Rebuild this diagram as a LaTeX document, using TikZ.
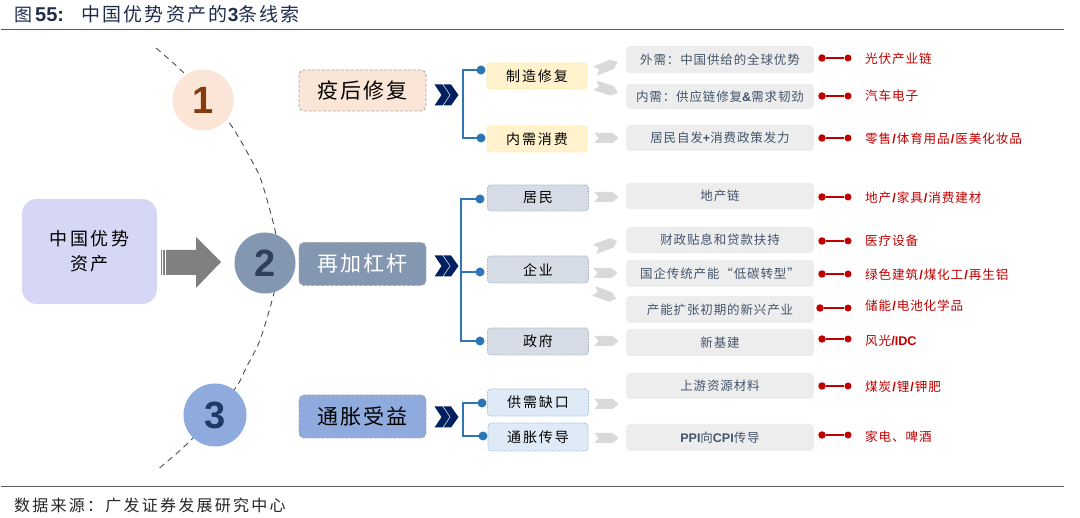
\documentclass[tikz,border=0pt]{standalone}
\usepackage{fontspec}
\setmainfont{Liberation Sans}
\newfontfamily\cjk{Noto Sans CJK SC}
\newfontfamily\cjks[LetterSpace=14]{Noto Sans CJK SC}
\newfontfamily\cjkt[LetterSpace=12]{Noto Sans CJK SC}
\newfontfamily\cjkr[LetterSpace=7]{Noto Sans CJK SC}
\newfontfamily\cjkw[LetterSpace=8]{Noto Sans CJK SC}
\newcommand{\fsz}[1]{\fontsize{#1}{#1}\selectfont}
\newcommand{\lat}[1]{{\rmfamily\bfseries #1}}
\newcommand{\fwc}{\char"FF1A\relax}
\newcommand{\sep}{\hspace{1pt}\lat{/}\hspace{1pt}}
\definecolor{ink}{HTML}{1F2D4D}
\definecolor{slate}{HTML}{44546A}
\definecolor{dred}{HTML}{C00000}
\definecolor{bblue}{HTML}{2E75B6}
\definecolor{navy}{HTML}{002060}
\definecolor{cFFF2CC}{HTML}{FFF2CC}
\definecolor{cFFE699}{HTML}{FFE699}
\definecolor{cD6DCE5}{HTML}{D6DCE5}
\definecolor{cADB9CA}{HTML}{ADB9CA}
\definecolor{cDEEBF7}{HTML}{DEEBF7}
\definecolor{c9DC3E6}{HTML}{9DC3E6}
\definecolor{cEDEDED}{HTML}{EDEDED}
\definecolor{cD9D9D9}{HTML}{D9D9D9}
\definecolor{cD6D6F5}{HTML}{D6D6F5}
\definecolor{cFBE5D6}{HTML}{FBE5D6}
\definecolor{c8497B0}{HTML}{8497B0}
\definecolor{c8FAADC}{HTML}{8FAADC}
\definecolor{c843C0C}{HTML}{843C0C}
\definecolor{c2F3F58}{HTML}{2F3F58}
\definecolor{c1F3864}{HTML}{1F3864}
\tikzset{
  x=1pt,y=-1pt,
  catbox/.style={draw=black!35,dash pattern=on 3pt off 1.8pt,line width=0.9pt,rounded corners=5pt,text=black,font=\cjkw\fsz{21}},
  subbox/.style={rounded corners=3pt,dash pattern=on 2pt off 1pt,line width=0.7pt,text=black,font=\cjks\fsz{14}},
  ylw/.style={subbox,fill=cFFF2CC,draw=cFFE699},
  gry/.style={subbox,fill=cD6DCE5,draw=cADB9CA},
  blu/.style={subbox,fill=cDEEBF7,draw=c9DC3E6},
  infobox/.style={fill=cEDEDED,rounded corners=4pt,text=slate,font=\cjkr\fsz{12.5}},
  redtext/.style={anchor=west,text=dred,font=\cjkr\fsz{12.6},inner sep=0pt},
  rdot/.style={circle,fill=dred,minimum size=7.5pt,inner sep=0pt},
  bdot/.style={circle,fill=bblue,minimum size=9pt,inner sep=0pt},
  rline/.style={draw=dred,line width=2.2pt},
  bline/.style={draw=bblue,line width=2.8pt},
  numcirc/.style={circle,inner sep=0pt,minimum size=61pt,font=\bfseries\fsz{38}},
  arcline/.style={draw=black!70,line width=0.9pt,dash pattern=on 6pt off 4.5pt},
  rule/.style={draw=black!65,line width=1pt},
}
\newcommand{\sharrow}[3]{\fill[cD9D9D9,shift={(#1,#2)},rotate=#3] (-12,-5)--(6,-5)--(12,0)--(6,5)--(-12,5)--(-8,0)--cycle;}
\newcommand{\chev}[1]{\fill[navy,shift={(434.5,#1)}] (0,-10.5)--(8,-10.5)--(15,0)--(8,10.5)--(0,10.5)--(7,0)--cycle (9,-10.5)--(16.5,-10.5)--(24,0)--(16.5,10.5)--(9,10.5)--(16,0)--cycle;}
\begin{document}
\begin{tikzpicture}
\useasboundingbox (0,0) rectangle (1080,518);
% header and footer
\coordinate (tl) at (1,30); \coordinate (tr) at (1064,30);
\coordinate (bl) at (1,487); \coordinate (br) at (1064,487);
\draw[rule] (tl)--(tr);
\draw[rule] (bl)--(br);
\node[anchor=west,inner sep=0pt,text=ink] (title) at (14,14) {{\cjk\fsz{18}图}\hspace{3pt}\lat{\fsz{20}55:}\hspace{17pt}{\cjkt\fsz{19}中国优势资产的\lat{3}条线索}};
\node[anchor=west,inner sep=0pt,text=black!85] (src) at (14,505) {\cjks\fsz{16}数据来源\fwc 广发证券发展研究中心};
% arc
\draw[arcline] plot[smooth] coordinates {(156,48)(186,75)(228,121)(253,163)(262,183)(275,230)(279,262)(274,293)(260,340)(246.5,367)(234,390)(191,440)(157,470)};
% left
\node[fill=cD6D6F5,rounded corners=15pt,minimum width=135pt,minimum height=105pt,inner sep=0pt,align=center,text=black,font=\cjks\fsz{18}] (root) at (89.5,251.5) {\raisebox{-2pt}{中国优势}\\[7pt]\raisebox{-2pt}{资产}};
% big arrow
\fill[black!50] (168,250)--(196,250)--(196,237)--(221,262)--(196,288)--(196,275)--(168,275)--cycle;
\foreach \xx in {160.5,163.2,165.9}{\fill[black!50] (\xx,250) rectangle ++(1.6,25);}
% circles
\node[numcirc,fill=cFBE5D6,text=c843C0C] (c1) at (203,100) {1};
\node[numcirc,fill=c8497B0,text=c2F3F58] (c2) at (265,263) {2};
\node[numcirc,fill=c8FAADC,text=c1F3864,minimum size=63pt] (c3) at (215,415) {3};
% categories
\node[catbox,fill=cFBE5D6,minimum width=127pt,minimum height=41pt,inner sep=0pt] (k1) at (362.5,90.5) {疫后修复};
\node[catbox,fill=c8497B0,text=white,minimum width=127pt,minimum height=43pt,inner sep=0pt] (k2) at (362.5,264) {再加杠杆};
\node[catbox,fill=c8FAADC,minimum width=127pt,minimum height=43pt,inner sep=0pt] (k3) at (362.5,416.5) {通胀受益};
\chev{95}\chev{266}\chev{417}
% sub boxes
\node[ylw,minimum width=100pt,minimum height=26pt,inner sep=0pt] (s1) at (537,76) {制造修复};
\node[ylw,minimum width=100pt,minimum height=26pt,inner sep=0pt] (s2) at (537,139) {内需消费};
\node[gry,minimum width=101pt,minimum height=26pt,inner sep=0pt] (s3) at (538,198) {居民};
\node[gry,minimum width=101pt,minimum height=27pt,inner sep=0pt] (s4) at (538,269.5) {企业};
\node[gry,minimum width=101pt,minimum height=27pt,inner sep=0pt] (s5) at (538,341.5) {政府};
\node[blu,minimum width=101pt,minimum height=27pt,inner sep=0pt] (s6) at (538,402.5) {供需缺口};
\node[blu,minimum width=100pt,minimum height=28pt,inner sep=0pt] (s7) at (538,437) {通胀传导};
% brackets
\coordinate (v1) at (463,104); \coordinate (v2) at (461,270); \coordinate (v3) at (463,420); \coordinate (j4) at (461,272);
\node[bdot] (d1) at (481,70) {}; \node[bdot] (d2) at (481,138) {};
\node[bdot] (d3) at (480,199) {}; \node[bdot] (d4) at (480,272) {}; \node[bdot] (d5) at (480,341) {};
\node[bdot] (d6) at (482,403) {}; \node[bdot] (d7) at (483,436) {};
\draw[bline] (d1.center)-|(v1)|-(d2.center);
\draw[bline] (d3.center)-|(v2)|-(d5.center);
\draw[bline] (j4)--(d4.center);
\draw[bline] (d6.center)-|(v3)|-(d7.center);
% small arrows
\sharrow{606.5}{66.5}{22}
\sharrow{606.5}{89}{-18}
\sharrow{606.5}{138}{0}
\sharrow{606.5}{197}{0}
\sharrow{606}{245}{20}
\sharrow{605.5}{273}{0}
\sharrow{605}{295}{-20}
\sharrow{606.5}{341}{0}
\sharrow{606.5}{404}{0}
\sharrow{606.5}{438}{0}
% info rows
\foreach \i/\yc/\hh/\txt in {
 1/59.5/27/外需\fwc 中国供给的全球优势,
 2/96.5/25/内需\fwc 供应链修复\lat{\&}需求韧劲,
 3/138/26/居民自发\lat{+}消费政策发力,
 4/196/26/地产链,
 5/240/26/财政贴息和贷款扶持,
 6/273.5/27/国企传统产能“低碳转型”,
 7/309.5/27/产能扩张初期的新兴产业,
 8/342.5/27/新基建,
 9/386/26/上游资源材料,
 10/437.5/27/\lat{PPI}向\lat{CPI}传导}{
  \node[infobox,minimum width=188pt,minimum height=\hh pt,inner sep=0pt] (i\i) at (720,\yc) {\txt};
}
% red rows
\foreach \i/\yc/\xa/\ty/\txt in {
 1/58/822/59/光伏产业链,
 2/96/822/96/汽车电子,
 3/138/822/139/零售\sep 体育用品\sep 医美化妆品,
 4/197/822/198/地产\sep 家具\sep 消费建材,
 5/241/822/241/医疗设备,
 6/274/822/275/绿色建筑\sep 煤化工\sep 再生铝,
 7/308/820/306/储能\sep 电池化学品,
 8/339/822/341/风光\lat{/IDC},
 9/386/822/387/煤炭\sep 锂\sep 钾肥,
 10/435/822/437/家电、啤酒}{
  \node[rdot] (ra\i) at (\xa,\yc) {};
  \node[rdot,minimum size=7pt] (rb\i) at (848,\yc) {};
  \draw[rline] (ra\i)--(rb\i);
  \node[redtext] (rt\i) at (865,\ty) {\txt};
}
\end{tikzpicture}
\end{document}
